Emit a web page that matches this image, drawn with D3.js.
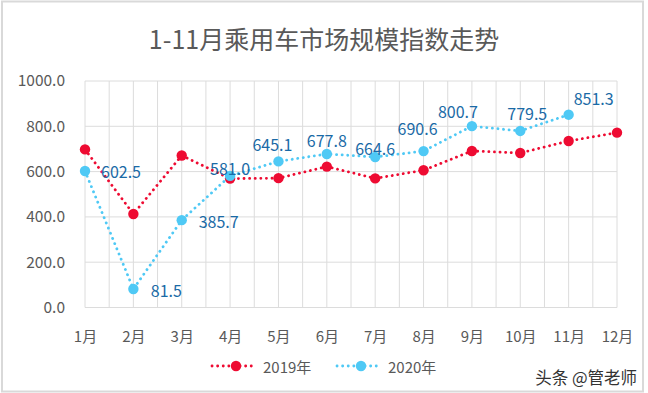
<!DOCTYPE html>
<html><head><meta charset="utf-8">
<script src="https://cdn.jsdelivr.net/npm/d3@7"></script>
<style>body{margin:0;background:#fff;}svg{display:block;}</style>
</head><body>
<svg id="c" width="648" height="393"></svg>
<script>
const title = "1-11月乘用车市场规模指数走势";
const months = ["1月","2月","3月","4月","5月","6月","7月","8月","9月","10月","11月","12月"];
const values2019 = [698, 413, 671, 569, 571, 622, 570, 606, 691, 682, 735, 772];
const values2020 = [602.5, 81.5, 385.7, 581.0, 645.1, 677.8, 664.6, 690.6, 800.7, 779.5, 851.3];
const yTicks = [0, 200, 400, 600, 800, 1000];
const seriesNames = ["2019年", "2020年"];
const watermark = "头条 @管老师";

const svg = d3.select("#c");
const FONT = "'Noto Sans CJK SC','Noto Sans',sans-serif";
const red = "#ee0b32", blue = "#4fc9f5", labelColor = "#1a6aa6", textGrey = "#595959";

svg.append("rect").attr("x",2).attr("y",1.5).attr("width",641).attr("height",390)
  .attr("fill","#fff").attr("stroke","#d9d9d9").attr("stroke-width",2);

const x = d3.scalePoint().domain(months).range([85, 617]);
const y = d3.scaleLinear().domain([0, 1000]).range([307.5, 81]);
const step = x.step();

// grid
const g = svg.append("g");
for (let k = 0; k <= 22; k++) {
  const xx = 85 + k * step / 2;
  g.append("line").attr("x1",xx).attr("x2",xx).attr("y1",y(1000)).attr("y2",y(0))
    .attr("stroke","#dcdcdc").attr("stroke-width",1);
}
yTicks.forEach(t => {
  g.append("line").attr("x1",85).attr("x2",617).attr("y1",y(t)).attr("y2",y(t))
    .attr("stroke","#dcdcdc").attr("stroke-width",1);
});

// axes labels
const yAxis = d3.axisLeft(y).tickValues(yTicks).tickFormat(d3.format(".1f")).tickSize(0).tickPadding(20);
const ya = svg.append("g").attr("transform","translate(85,0)").call(yAxis);
ya.select(".domain").remove();
ya.selectAll("text").attr("fill",textGrey).style("font-family",FONT).style("font-size","15.5px");

const xAxis = d3.axisBottom(x).tickSize(0).tickPadding(24);
const xa = svg.append("g").attr("transform","translate(0,307.5)").call(xAxis);
xa.select(".domain").remove();
xa.selectAll("text").attr("fill",textGrey).style("font-family",FONT).style("font-size","15px");

// title
svg.append("text").attr("x",324).attr("y",49).attr("text-anchor","middle")
  .attr("fill",textGrey).style("font-family",FONT).style("font-size","25px").text(title);

const line = d3.line().x((d,i) => x(months[i])).y(d => y(d));
function drawSeries(vals, color) {
  svg.append("path").datum(vals).attr("d", line).attr("fill","none")
    .attr("stroke", color).attr("stroke-width", 2.8).attr("stroke-linecap","round")
    .attr("stroke-dasharray","0.1 5.5");
  svg.selectAll(null).data(vals).enter().append("circle")
    .attr("cx",(d,i)=>x(months[i])).attr("cy",d=>y(d)).attr("r",5.2).attr("fill",color);
}
drawSeries(values2019, red);
drawSeries(values2020, blue);

// data labels for 2020 (offsets relative to the point)
const labelOffsets = [[36,0],[33,1],[37,1],[0,-8],[-6,-17],[0,-14],[0,-9],[-6,-23],[-14,-15],[7,-18],[25,-17]];
svg.selectAll(null).data(values2020).enter().append("text")
  .attr("x",(d,i)=>x(months[i]) + labelOffsets[i][0])
  .attr("y",(d,i)=>y(d) + labelOffsets[i][1])
  .attr("text-anchor","middle").attr("dominant-baseline","central")
  .attr("fill",labelColor).style("font-family",FONT).style("font-size","16px")
  .text(d=>d3.format(".1f")(d));

// legend
const legend = [[212, red, seriesNames[0]], [337, blue, seriesNames[1]]];
legend.forEach(([lx, c, name]) => {
  svg.append("line").attr("x1",lx).attr("x2",lx+44).attr("y1",366).attr("y2",366)
    .attr("stroke",c).attr("stroke-width",2.8).attr("stroke-linecap","round").attr("stroke-dasharray","0.1 5.5");
  svg.append("circle").attr("cx",lx+24).attr("cy",366).attr("r",5.2).attr("fill",c);
  svg.append("text").attr("x",lx+51).attr("y",366).attr("dominant-baseline","central")
    .attr("fill",textGrey).style("font-family",FONT).style("font-size","15px").text(name);
});

svg.append("text").attr("x",637).attr("y",377).attr("text-anchor","end").attr("dominant-baseline","central")
  .attr("fill","#333").style("font-family",FONT).style("font-size","16.5px").text(watermark);
</script>
</body></html>
